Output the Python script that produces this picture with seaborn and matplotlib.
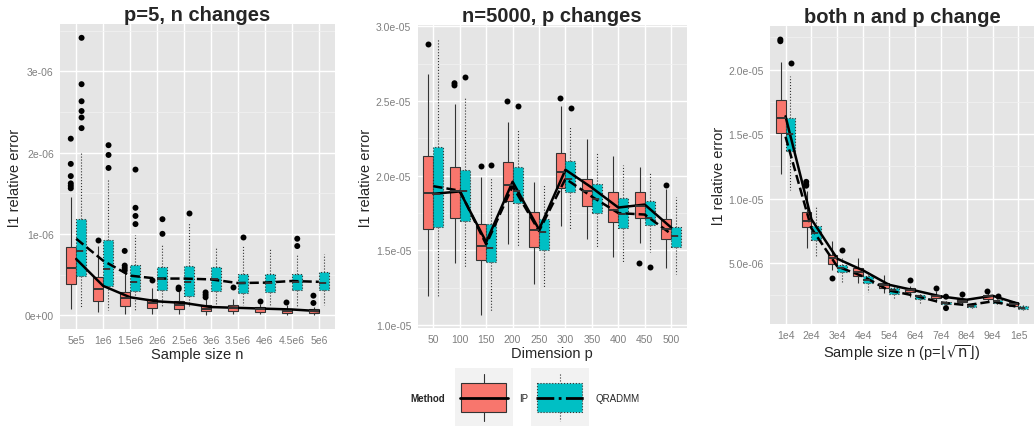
import matplotlib
matplotlib.use("Agg")
import pandas as pd
import matplotlib.pyplot as plt
from matplotlib.patches import Rectangle
import seaborn as sns

METHODS = ["IP", "QRADMM"]
COLORS = {"IP": "#F8766D", "QRADMM": "#00BFC4"}
BLACKS = {"IP": "black", "QRADMM": "black"}

# --- panel 1: p=5, n changes (values in 1e-6) ---
P1_CATS = ["5e5", "1e6", "1.5e6", "2e6", "2.5e6", "3e6", "3.5e6", "4e6", "4.5e6", "5e6"]
# each row: whisker low, q1, median, q3, whisker high
P1_IP_BOX = [
    [0.07, 0.38, 0.58, 0.835, 1.45],
    [0.04, 0.17, 0.32, 0.465, 0.85],
    [0.01, 0.115, 0.21, 0.28, 0.52],
    [0.015, 0.09, 0.155, 0.20, 0.34],
    [0.02, 0.08, 0.13, 0.17, 0.30],
    [0.0, 0.05, 0.08, 0.12, 0.20],
    [0.02, 0.05, 0.09, 0.13, 0.20],
    [0.01, 0.04, 0.07, 0.10, 0.14],
    [0.0, 0.03, 0.05, 0.08, 0.12],
    [0.0, 0.03, 0.05, 0.07, 0.10],
]
P1_QR_BOX = [
    [0.095, 0.486, 0.794, 1.18, 2.01],
    [0.066, 0.36, 0.57, 0.93, 1.66],
    [0.05, 0.30, 0.41, 0.62, 0.98],
    [0.10, 0.31, 0.45, 0.59, 0.88],
    [0.10, 0.24, 0.41, 0.61, 1.13],
    [0.12, 0.30, 0.44, 0.59, 0.82],
    [0.12, 0.27, 0.39, 0.51, 0.85],
    [0.12, 0.28, 0.395, 0.51, 0.81],
    [0.11, 0.31, 0.41, 0.51, 0.75],
    [0.12, 0.31, 0.40, 0.53, 0.75],
]
P1_IP_OUT = {"5e5": [2.17, 1.86, 1.71, 1.62, 1.59, 1.56], "1e6": [0.93],
             "1.5e6": [0.79, 0.61, 0.58, 0.55], "2e6": [0.43], "2.5e6": [0.34, 0.32],
             "3e6": [0.28, 0.25, 0.22], "3.5e6": [0.35], "4e6": [0.18],
             "4.5e6": [0.16], "5e6": [0.24, 0.15]}
P1_QR_OUT = {"5e5": [3.41, 2.84, 2.63, 2.51, 2.43, 2.30], "1e6": [2.09, 1.97, 1.81],
             "1.5e6": [1.79, 1.32, 1.22, 1.12], "2e6": [1.18, 1.0], "2.5e6": [1.26],
             "3.5e6": [0.96], "4.5e6": [0.94, 0.85]}
P1_IP_MEAN = [0.69, 0.36, 0.22, 0.17, 0.15, 0.10, 0.09, 0.08, 0.07, 0.05]
P1_QR_MEAN = [0.94, 0.67, 0.486, 0.45, 0.45, 0.44, 0.395, 0.40, 0.42, 0.41]
P1_YTICKS = [0, 1, 2, 3]
P1_YTICK_LABELS = ["0e+00", "1e-06", "2e-06", "3e-06"]

# --- panel 2: n=5000, p changes (values in 1e-5) ---
P2_CATS = ["50", "100", "150", "200", "250", "300", "350", "400", "450", "500"]
P2_IP_BOX = [
    [1.197, 1.641, 1.886, 2.13, 2.684],
    [1.417, 1.72, 1.90, 2.056, 2.48],
    [1.065, 1.435, 1.527, 1.68, 1.99],
    [1.545, 1.83, 1.94, 2.09, 2.36],
    [1.276, 1.52, 1.637, 1.76, 1.96],
    [1.664, 1.915, 2.027, 2.15, 2.466],
    [1.574, 1.80, 1.90, 1.978, 2.247],
    [1.455, 1.69, 1.77, 1.89, 2.135],
    [1.547, 1.72, 1.80, 1.888, 2.056],
    [1.383, 1.574, 1.64, 1.71, 1.91],
]
P2_QR_BOX = [
    [1.197, 1.657, 1.88, 2.195, 2.919],
    [1.383, 1.70, 1.90, 2.04, 2.53],
    [1.096, 1.424, 1.516, 1.675, 1.99],
    [1.53, 1.82, 1.90, 2.06, 2.31],
    [1.253, 1.505, 1.62, 1.71, 1.94],
    [1.641, 1.892, 1.98, 2.10, 2.325],
    [1.525, 1.75, 1.843, 1.946, 2.157],
    [1.424, 1.648, 1.742, 1.85, 2.074],
    [1.489, 1.67, 1.72, 1.83, 2.02],
    [1.339, 1.522, 1.596, 1.66, 1.86],
]
P2_IP_OUT = {"50": [2.886], "100": [2.62, 2.605], "150": [2.067], "200": [2.498],
             "300": [2.52], "450": [1.415], "500": [1.94]}
P2_QR_OUT = {"100": [2.66], "150": [2.074], "200": [2.47], "300": [2.453], "450": [1.386]}
P2_IP_MEAN = [1.879, 1.895, 1.556, 1.96, 1.64, 2.04, 1.92, 1.787, 1.807, 1.653]
P2_QR_MEAN = [1.93, 1.90, 1.54, 1.93, 1.63, 1.98, 1.86, 1.75, 1.74, 1.61]
P2_YTICKS = [1.0, 1.5, 2.0, 2.5, 3.0]
P2_YTICK_LABELS = ["1.0e-05", "1.5e-05", "2.0e-05", "2.5e-05", "3.0e-05"]

# --- panel 3: both n and p change (values in 1e-5) ---
P3_CATS = ["1e4", "2e4", "3e4", "4e4", "5e4", "6e4", "7e4", "8e4", "9e4", "1e5"]
P3_IP_BOX = [
    [1.19, 1.509, 1.625, 1.767, 2.057],
    [0.617, 0.78, 0.826, 0.896, 1.06],
    [0.45, 0.492, 0.539, 0.565, 0.673],
    [0.345, 0.40, 0.43, 0.461, 0.539],
    [0.27, 0.306, 0.327, 0.345, 0.41],
    [0.24, 0.273, 0.288, 0.306, 0.319],
    [0.20, 0.229, 0.242, 0.254, 0.28],
    [0.177, 0.195, 0.208, 0.22, 0.237],
    [0.195, 0.224, 0.242, 0.254, 0.273],
    [0.164, 0.171, 0.185, 0.195, 0.208],
]
P3_QR_BOX = [
    [1.069, 1.366, 1.50, 1.622, 1.948],
    [0.557, 0.676, 0.733, 0.79, 0.945],
    [0.345, 0.428, 0.461, 0.487, 0.54],
    [0.273, 0.345, 0.371, 0.397, 0.443],
    [0.22, 0.262, 0.288, 0.306, 0.33],
    [0.19, 0.224, 0.242, 0.254, 0.28],
    [0.164, 0.182, 0.19, 0.197, 0.22],
    [0.146, 0.159, 0.171, 0.182, 0.195],
    [0.169, 0.19, 0.203, 0.216, 0.237],
    [0.133, 0.143, 0.154, 0.164, 0.174],
]
P3_IP_OUT = {"1e4": [2.233, 2.22], "2e4": [1.13, 1.11, 1.10], "3e4": [0.384],
             "6e4": [0.366], "7e4": [0.306], "8e4": [0.26], "9e4": [0.285]}
P3_QR_OUT = {"1e4": [2.05], "3e4": [0.604], "7e4": [0.151, 0.24], "9e4": [0.247]}
P3_IP_MEAN = [1.638, 0.84, 0.534, 0.443, 0.332, 0.288, 0.242, 0.216, 0.247, 0.185]
P3_QR_MEAN = [1.48, 0.77, 0.474, 0.397, 0.288, 0.247, 0.195, 0.174, 0.203, 0.159]
P3_YTICKS = [0.5, 1.0, 1.5, 2.0]
P3_YTICK_LABELS = ["5.0e-06", "1.0e-05", "1.5e-05", "2.0e-05"]

# --- style ---
sns.set_style("darkgrid", {"axes.facecolor": "#E5E5E5", "grid.color": "white"})
plt.rcParams["font.family"] = ["Liberation Sans", "DejaVu Sans"]
TICK_GREY = "#7F7F7F"
EDGE = "#333333"


def box_frame(cats, boxes, method, scale):
    rows = []
    for cat, five in zip(cats, boxes):
        for v in five:
            rows.append((cat, v * scale, method))
    return pd.DataFrame(rows, columns=["cat", "val", "method"])


def out_frame(outs, method, scale):
    rows = [(cat, v * scale, method) for cat, vals in outs.items() for v in vals]
    return pd.DataFrame(rows, columns=["cat", "val", "method"])


def draw_panel(ax, cats, ip_box, qr_box, ip_out, qr_out, ip_mean, qr_mean, scale,
               ylim, yticks, ylabels, yminor, title, xlabel):
    styles = {"IP": ("-", "-"), "QRADMM": (":", "--")}
    for method, boxes in [("IP", ip_box), ("QRADMM", qr_box)]:
        ls, med_ls = styles[method]
        sns.boxplot(data=box_frame(cats, boxes, method, scale), x="cat", y="val",
                    hue="method", order=cats, hue_order=METHODS, palette=COLORS,
                    dodge=True, saturation=1, width=0.75, gap=0, whis=(0, 100),
                    showcaps=False, showfliers=False, linecolor=EDGE, linewidth=0.8,
                    boxprops={"linestyle": ls}, whiskerprops={"linestyle": ls},
                    medianprops={"linestyle": med_ls, "linewidth": 1.4},
                    legend=False, ax=ax)

    outs = pd.concat([out_frame(ip_out, "IP", scale), out_frame(qr_out, "QRADMM", scale)])
    sns.stripplot(data=outs, x="cat", y="val", hue="method", order=cats,
                  hue_order=METHODS, palette=BLACKS, dodge=True, jitter=False,
                  size=4.3, linewidth=0, legend=False, ax=ax)

    means = pd.DataFrame({"cat": cats * 2,
                          "val": [v * scale for v in ip_mean + qr_mean],
                          "method": ["IP"] * len(cats) + ["QRADMM"] * len(cats)})
    sns.pointplot(data=means, x="cat", y="val", hue="method", order=cats,
                  hue_order=METHODS, palette=BLACKS, markers=["", ""],
                  linestyles=["-", "--"], dodge=False, errorbar=None,
                  linewidth=1.8, legend=False, ax=ax)

    ax.set_xlim(-0.6, len(cats) - 0.4)
    ax.set_ylim(ylim[0] * scale, ylim[1] * scale)
    ax.set_xticks(range(len(cats)))
    ax.set_xticklabels(cats)
    ax.set_yticks([t * scale for t in yticks])
    ax.set_yticklabels(ylabels)
    ax.set_yticks([t * scale for t in yminor], minor=True)
    ax.grid(True, which="major", color="white", linewidth=1.0)
    ax.grid(True, which="minor", axis="y", color="#F2F2F2", linewidth=0.5)
    ax.set_axisbelow(True)
    ax.tick_params(which="minor", length=0)
    ax.tick_params(which="major", length=3, width=0.8, color=TICK_GREY,
                   labelcolor=TICK_GREY, labelsize=7.5, pad=1.5)
    for s in ax.spines.values():
        s.set_visible(False)
    ax.set_title(title, fontsize=14.5, fontweight="bold", pad=3)
    ax.set_xlabel(xlabel, fontsize=10.5, labelpad=1)
    ax.set_ylabel("l1 relative error", fontsize=10.5, labelpad=2)


W, H = 1034, 427
fig = plt.figure(figsize=(W / 100, H / 100), dpi=100)


def px_axes(left, top, right, bottom):
    return fig.add_axes([left / W, 1 - bottom / H, (right - left) / W, (bottom - top) / H])


ax1 = px_axes(60, 25, 335, 330)
ax2 = px_axes(417.5, 26, 687, 329)
ax3 = px_axes(770, 27, 1034, 325)

draw_panel(ax1, P1_CATS, P1_IP_BOX, P1_QR_BOX, P1_IP_OUT, P1_QR_OUT, P1_IP_MEAN,
           P1_QR_MEAN, 1e-6, (-0.17, 3.58), P1_YTICKS, P1_YTICK_LABELS,
           [0.5, 1.5, 2.5, 3.5], "p=5, n changes", "Sample size n")
draw_panel(ax2, P2_CATS, P2_IP_BOX, P2_QR_BOX, P2_IP_OUT, P2_QR_OUT, P2_IP_MEAN,
           P2_QR_MEAN, 1e-5, (0.98, 3.01), P2_YTICKS, P2_YTICK_LABELS,
           [1.25, 1.75, 2.25, 2.75], "n=5000, p changes", "Dimension p")
draw_panel(ax3, P3_CATS, P3_IP_BOX, P3_QR_BOX, P3_IP_OUT, P3_QR_OUT, P3_IP_MEAN,
           P3_QR_MEAN, 1e-5, (0.028, 2.338), P3_YTICKS, P3_YTICK_LABELS,
           [0.25, 0.75, 1.25, 1.75, 2.25], "both n and p change",
           r"Sample size n (p=$\lfloor\sqrt{\mathrm{n}}\rfloor$)")

# --- legend (drawn in pixel coordinates) ---
lax = fig.add_axes([0, 0, 1, 1])
lax.set_xlim(0, W)
lax.set_ylim(H, 0)
lax.axis("off")
lax.patch.set_alpha(0)

lax.text(410.7, 399, "Method", fontsize=7, fontweight="bold", va="center", ha="left")
for x0, method, ls, med_ls in [(455, "IP", "-", "-"), (531, "QRADMM", ":", "-.")]:
    lax.add_patch(Rectangle((x0, 369), 58, 58, facecolor="#F2F2F2", edgecolor="none"))
    cx = x0 + 29
    lax.plot([cx, cx], [375, 384], color=EDGE, lw=0.8, ls=ls)
    lax.plot([cx, cx], [413, 422], color=EDGE, lw=0.8, ls=ls)
    lax.add_patch(Rectangle((x0 + 6, 384), 45, 29, facecolor=COLORS[method],
                            edgecolor=EDGE, lw=0.8, ls=ls))
    lax.plot([x0 + 5, x0 + 53], [399, 399], color="black", lw=2.0, ls=med_ls)
    lax.text(x0 + 64, 399, method, fontsize=7, va="center", ha="left")

fig.savefig("out.png", dpi=100)
